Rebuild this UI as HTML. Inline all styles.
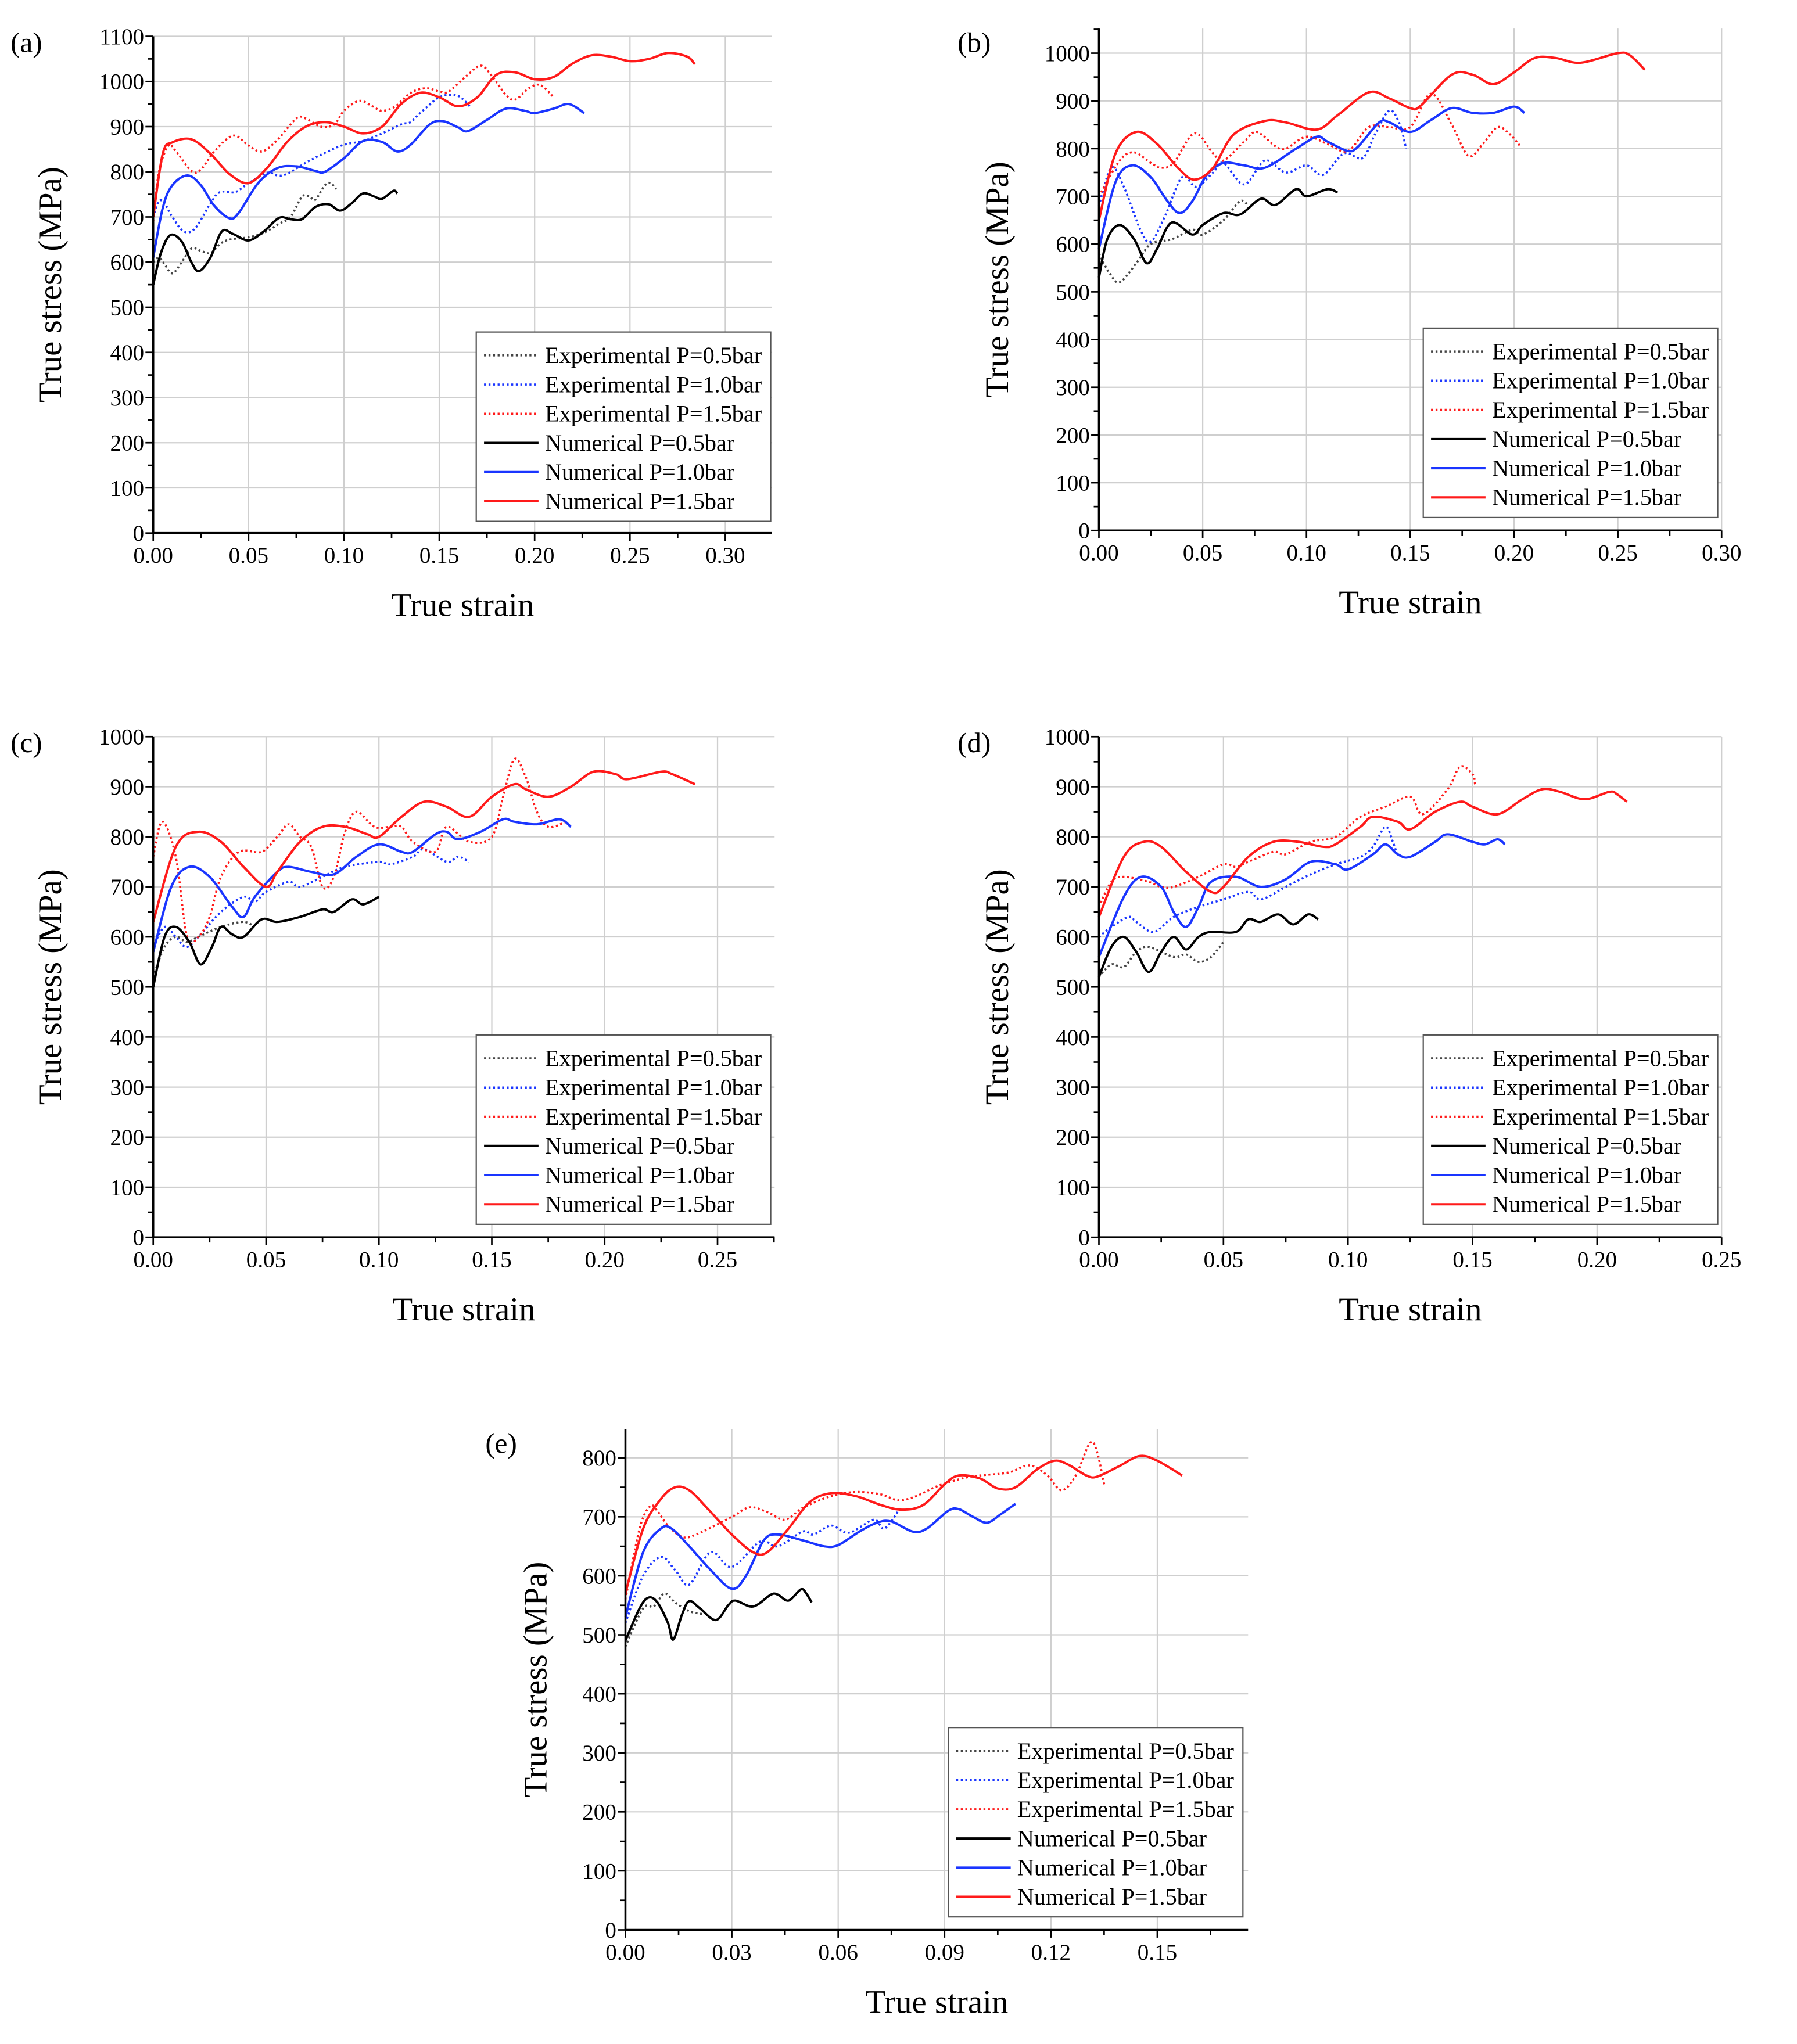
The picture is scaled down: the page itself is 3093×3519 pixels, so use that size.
<!DOCTYPE html>
<html><head><meta charset="utf-8"><style>
html,body{margin:0;padding:0;background:#fff;}
svg{display:block;}
text{font-family:"Liberation Serif",serif;fill:#000;}
</style></head>
<body>
<svg id="fig" width="3093" height="3519" viewBox="0 0 1385 1576" xmlns="http://www.w3.org/2000/svg"></svg>
<script>
// ---------------- DATA ----------------
const seriesNames = ["Experimental P=0.5bar","Experimental P=1.0bar","Experimental P=1.5bar","Numerical P=0.5bar","Numerical P=1.0bar","Numerical P=1.5bar"];
const seriesColors = ["#444","#1a35ff","#ff1a1a","#000","#1a35ff","#ff1a1a"];

const aExp05 = [[0,600],[0.003,610],[0.006,595],[0.01,575],[0.015,600],[0.02,630],[0.025,625],[0.03,620],[0.035,640],[0.04,650],[0.05,655],[0.058,665],[0.066,685],[0.072,700],[0.078,745],[0.082,745],[0.085,738],[0.09,770],[0.093,775],[0.096,762]];
const aExp10 = [[0,700],[0.003,735],[0.006,730],[0.01,700],[0.016,668],[0.022,675],[0.03,730],[0.035,755],[0.043,755],[0.05,775],[0.06,798],[0.065,792],[0.07,795],[0.08,820],[0.09,842],[0.1,860],[0.11,868],[0.12,885],[0.13,905],[0.135,910],[0.14,930],[0.15,965],[0.158,970],[0.162,962],[0.166,945]];
const aExp15 = [[0,690],[0.003,800],[0.008,858],[0.012,845],[0.02,802],[0.025,805],[0.032,845],[0.042,880],[0.05,858],[0.057,845],[0.065,870],[0.075,918],[0.08,918],[0.088,900],[0.095,905],[0.1,935],[0.108,957],[0.115,945],[0.12,935],[0.127,945],[0.135,975],[0.143,985],[0.15,978],[0.155,978],[0.165,1015],[0.172,1035],[0.178,1010],[0.185,970],[0.19,960],[0.197,985],[0.203,992],[0.21,965]];
const aNum05 = [[0,550],[0.004,620],[0.009,660],[0.015,645],[0.02,600],[0.024,580],[0.03,610],[0.036,668],[0.042,662],[0.05,648],[0.058,668],[0.066,698],[0.072,695],[0.078,695],[0.085,722],[0.092,728],[0.098,714],[0.104,730],[0.11,752],[0.116,745],[0.12,740],[0.126,758],[0.128,752]];
const aNum10 = [[0,610],[0.005,720],[0.01,770],[0.018,792],[0.025,770],[0.032,725],[0.04,697],[0.045,710],[0.055,775],[0.065,808],[0.075,812],[0.085,802],[0.09,800],[0.1,830],[0.11,868],[0.12,866],[0.128,845],[0.135,860],[0.145,905],[0.152,912],[0.16,898],[0.165,890],[0.175,915],[0.185,940],[0.195,935],[0.2,930],[0.21,940],[0.218,950],[0.226,930]];
const aNum15 = [[0,700],[0.005,840],[0.01,865],[0.02,872],[0.03,840],[0.04,795],[0.05,775],[0.06,810],[0.07,865],[0.08,900],[0.09,910],[0.1,900],[0.11,885],[0.12,900],[0.13,950],[0.14,975],[0.15,965],[0.16,945],[0.17,965],[0.18,1015],[0.19,1020],[0.2,1005],[0.21,1010],[0.22,1040],[0.23,1058],[0.24,1055],[0.25,1045],[0.26,1050],[0.27,1063],[0.28,1055],[0.284,1038]];

const bExp05 = [[0,580],[0.005,540],[0.01,520],[0.018,560],[0.025,600],[0.035,610],[0.045,630],[0.05,620],[0.06,650],[0.068,690],[0.072,680]];
const bExp10 = [[0,680],[0.006,760],[0.012,720],[0.02,630],[0.025,605],[0.032,660],[0.04,740],[0.047,720],[0.055,750],[0.06,770],[0.07,725],[0.08,775],[0.09,750],[0.1,765],[0.108,745],[0.118,790],[0.127,780],[0.133,830],[0.14,880],[0.145,850],[0.148,800]];
const bExp15 = [[0,700],[0.01,775],[0.017,792],[0.025,770],[0.03,760],[0.036,770],[0.046,832],[0.055,790],[0.06,775],[0.07,815],[0.076,835],[0.085,805],[0.09,800],[0.1,825],[0.11,810],[0.12,795],[0.13,845],[0.14,845],[0.15,845],[0.16,915],[0.17,850],[0.178,785],[0.185,810],[0.192,845],[0.198,830],[0.203,805]];
const bNum05 = [[0,530],[0.004,610],[0.01,640],[0.017,610],[0.023,560],[0.028,590],[0.035,645],[0.045,620],[0.05,640],[0.06,665],[0.068,662],[0.078,695],[0.085,682],[0.095,715],[0.1,700],[0.11,715],[0.115,708]];
const bNum10 = [[0,590],[0.008,730],[0.016,765],[0.025,740],[0.033,690],[0.039,665],[0.045,690],[0.052,745],[0.06,770],[0.07,765],[0.08,760],[0.095,800],[0.105,825],[0.11,815],[0.12,795],[0.125,805],[0.135,855],[0.14,855],[0.15,835],[0.16,860],[0.17,885],[0.18,875],[0.19,875],[0.2,888],[0.205,875]];
const bNum15 = [[0,650],[0.008,790],[0.018,835],[0.028,810],[0.038,760],[0.046,735],[0.055,760],[0.065,830],[0.08,858],[0.09,855],[0.105,840],[0.115,870],[0.13,918],[0.14,905],[0.15,885],[0.155,890],[0.17,955],[0.18,955],[0.19,935],[0.2,960],[0.21,990],[0.22,990],[0.232,980],[0.25,1000],[0.256,995],[0.263,965]];

const cExp05 = [[0,520],[0.005,580],[0.01,600],[0.015,590],[0.02,600],[0.03,620],[0.04,630],[0.045,620]];
const cExp10 = [[0,580],[0.005,620],[0.01,600],[0.015,580],[0.022,610],[0.03,650],[0.04,680],[0.045,670],[0.05,690],[0.06,710],[0.065,700],[0.075,720],[0.085,740],[0.1,750],[0.105,745],[0.115,760],[0.12,775],[0.13,750],[0.135,760],[0.14,750]];
const cExp15 = [[0,760],[0.004,830],[0.01,760],[0.015,600],[0.02,600],[0.025,640],[0.03,720],[0.038,770],[0.048,770],[0.055,800],[0.06,825],[0.065,800],[0.07,780],[0.075,700],[0.08,720],[0.085,810],[0.09,850],[0.098,820],[0.105,820],[0.11,820],[0.115,790],[0.125,770],[0.13,820],[0.14,790],[0.15,800],[0.155,880],[0.16,955],[0.165,920],[0.17,850],[0.175,820],[0.183,830]];
const cNum05 = [[0,500],[0.005,600],[0.01,620],[0.016,590],[0.021,545],[0.026,580],[0.03,620],[0.035,605],[0.04,600],[0.048,635],[0.055,630],[0.065,640],[0.075,655],[0.08,650],[0.088,675],[0.093,665],[0.1,680]];
const cNum10 = [[0,570],[0.008,700],[0.016,740],[0.025,720],[0.035,660],[0.04,640],[0.045,680],[0.055,730],[0.06,740],[0.07,730],[0.08,725],[0.09,760],[0.1,785],[0.11,770],[0.115,770],[0.125,805],[0.13,810],[0.135,795],[0.145,810],[0.155,835],[0.16,830],[0.17,825],[0.18,835],[0.185,820]];
const cNum15 = [[0,630],[0.01,780],[0.02,810],[0.03,790],[0.04,740],[0.05,700],[0.055,730],[0.065,790],[0.075,820],[0.085,820],[0.095,805],[0.1,800],[0.11,840],[0.12,870],[0.13,860],[0.14,840],[0.15,880],[0.16,905],[0.165,895],[0.175,880],[0.185,900],[0.195,930],[0.205,925],[0.21,915],[0.225,930],[0.23,925],[0.24,905]];

const dExp05 = [[0,520],[0.005,545],[0.01,540],[0.015,570],[0.02,580],[0.03,560],[0.035,565],[0.04,550],[0.045,560],[0.05,590]];
const dExp10 = [[0,600],[0.005,620],[0.012,640],[0.015,630],[0.022,610],[0.03,640],[0.04,660],[0.05,675],[0.06,690],[0.065,675],[0.075,700],[0.085,725],[0.095,745],[0.105,760],[0.11,780],[0.115,820],[0.118,790],[0.12,760]];
const dExp15 = [[0,660],[0.005,710],[0.01,720],[0.02,710],[0.025,700],[0.03,700],[0.04,720],[0.05,745],[0.055,740],[0.06,750],[0.07,770],[0.075,765],[0.085,790],[0.095,800],[0.105,840],[0.115,860],[0.125,880],[0.13,845],[0.14,895],[0.145,940],[0.15,925],[0.151,905]];
const dNum05 = [[0,520],[0.005,580],[0.01,600],[0.015,570],[0.02,530],[0.025,570],[0.03,600],[0.035,575],[0.04,600],[0.045,610],[0.055,610],[0.06,635],[0.065,630],[0.072,645],[0.078,625],[0.084,645],[0.088,635]];
const dNum10 = [[0,560],[0.01,680],[0.017,720],[0.025,700],[0.03,650],[0.035,620],[0.04,660],[0.045,710],[0.055,720],[0.065,700],[0.075,715],[0.085,750],[0.095,745],[0.1,735],[0.11,765],[0.115,785],[0.12,765],[0.125,760],[0.135,790],[0.14,805],[0.15,790],[0.155,785],[0.16,795],[0.163,785]];
const dNum15 = [[0,640],[0.01,760],[0.018,790],[0.025,780],[0.035,730],[0.045,690],[0.05,700],[0.06,760],[0.07,790],[0.08,790],[0.09,780],[0.095,785],[0.105,820],[0.11,840],[0.12,830],[0.125,815],[0.135,850],[0.145,870],[0.15,860],[0.16,845],[0.17,875],[0.178,895],[0.185,890],[0.195,875],[0.205,890],[0.208,885],[0.212,870]];

const eExp05 = [[0,480],[0.005,545],[0.008,548],[0.011,570],[0.014,555],[0.018,540],[0.022,535]];
const eExp10 = [[0,520],[0.005,600],[0.01,632],[0.014,610],[0.018,585],[0.024,640],[0.03,615],[0.038,658],[0.043,650],[0.05,675],[0.053,670],[0.058,685],[0.063,673],[0.07,695],[0.073,680],[0.077,710]];
const eExp15 = [[0,560],[0.004,680],[0.007,718],[0.009,710],[0.012,685],[0.016,666],[0.02,670],[0.03,700],[0.035,716],[0.04,708],[0.045,695],[0.05,715],[0.058,735],[0.065,742],[0.072,738],[0.077,728],[0.082,735],[0.088,752],[0.095,765],[0.1,770],[0.108,775],[0.114,787],[0.119,770],[0.123,745],[0.127,770],[0.131,825],[0.133,810],[0.135,755]];
const eNum05 = [[0,490],[0.004,545],[0.0065,563],[0.009,555],[0.012,520],[0.0135,492],[0.016,535],[0.018,557],[0.021,545],[0.0255,525],[0.029,550],[0.031,558],[0.036,548],[0.041,568],[0.043,568],[0.046,558],[0.0495,577],[0.051,570],[0.0525,555]];
const eNum10 = [[0,530],[0.005,640],[0.01,680],[0.013,680],[0.018,650],[0.024,610],[0.03,578],[0.034,600],[0.039,660],[0.043,670],[0.05,660],[0.056,650],[0.06,652],[0.066,675],[0.071,690],[0.075,692],[0.081,675],[0.085,680],[0.091,710],[0.094,713],[0.098,700],[0.102,690],[0.106,705],[0.11,722]];
const eNum15 = [[0,570],[0.005,680],[0.01,730],[0.014,750],[0.018,745],[0.023,715],[0.03,670],[0.036,640],[0.04,640],[0.046,680],[0.052,725],[0.058,740],[0.065,735],[0.072,720],[0.078,712],[0.084,720],[0.09,755],[0.094,770],[0.1,765],[0.105,748],[0.11,750],[0.116,780],[0.121,795],[0.125,788],[0.13,770],[0.133,768],[0.139,785],[0.145,803],[0.15,795],[0.157,770]];

const aXTicks = ["0.00","0.05","0.10","0.15","0.20","0.25","0.30"];
const bXTicks = ["0.00","0.05","0.10","0.15","0.20","0.25","0.30"];
const cXTicks = ["0.00","0.05","0.10","0.15","0.20","0.25"];
const dXTicks = ["0.00","0.05","0.10","0.15","0.20","0.25"];
const eXTicks = ["0.00","0.03","0.06","0.09","0.12","0.15"];
const aYTicks = [0,100,200,300,400,500,600,700,800,900,1000,1100];
const bYTicks = [0,100,200,300,400,500,600,700,800,900,1000];
const cYTicks = [0,100,200,300,400,500,600,700,800,900,1000];
const dYTicks = [0,100,200,300,400,500,600,700,800,900,1000];
const eYTicks = [0,100,200,300,400,500,600,700,800];

// ---------------- LAYOUT ----------------
const panels = [
 {id:"a",L:118,B:411,T:28,R:595,xPer:0.05,xPx:73.5,yTop:1100,xt:aXTicks,yt:aYTicks,ser:[aExp05,aExp10,aExp15,aNum05,aNum10,aNum15],leg:[367,256],lab:[8,40],yt_x:38,xt_y:475},
 {id:"b",L:847,B:409,T:22,R:1327,xPer:0.05,xPx:80,yTop:1000,yTopPx:41,xt:bXTicks,yt:bYTicks,ser:[bExp05,bExp10,bExp15,bNum05,bNum10,bNum15],leg:[1097,253],lab:[738,40],yt_x:768,xt_y:473},
 {id:"c",L:118,B:954,T:568,R:597,xPer:0.05,xPx:87,yTop:1000,xt:cXTicks,yt:cYTicks,ser:[cExp05,cExp10,cExp15,cNum05,cNum10,cNum15],leg:[367,798],lab:[8,580],yt_x:38,xt_y:1018},
 {id:"d",L:847,B:954,T:568,R:1327,xPer:0.05,xPx:96,yTop:1000,xt:dXTicks,yt:dYTicks,ser:[dExp05,dExp10,dExp15,dNum05,dNum10,dNum15],leg:[1097,798],lab:[738,580],yt_x:768,xt_y:1018},
 {id:"e",L:482,B:1488,T:1102,R:962,xPer:0.03,xPx:82,yTop:800,yTopPx:1124,xt:eXTicks,yt:eYTicks,ser:[eExp05,eExp10,eExp15,eNum05,eNum10,eNum15],leg:[731,1332],lab:[374,1120],yt_x:412,xt_y:1552}
];

const NS="http://www.w3.org/2000/svg";
const svg=document.getElementById("fig");
function mk(tag,attrs,parent){const e=document.createElementNS(NS,tag);for(const k in attrs)e.setAttribute(k,attrs[k]);(parent||svg).appendChild(e);return e;}

function smoothPath(pts){
  if(pts.length<2)return "";
  let d="M"+pts[0][0].toFixed(2)+","+pts[0][1].toFixed(2);
  for(let i=0;i<pts.length-1;i++){
    const p0=pts[Math.max(0,i-1)],p1=pts[i],p2=pts[i+1],p3=pts[Math.min(pts.length-1,i+2)];
    const c1x=p1[0]+(p2[0]-p0[0])/6,c1y=p1[1]+(p2[1]-p0[1])/6;
    const c2x=p2[0]-(p3[0]-p1[0])/6,c2y=p2[1]-(p3[1]-p1[1])/6;
    d+=" C"+c1x.toFixed(2)+","+c1y.toFixed(2)+" "+c2x.toFixed(2)+","+c2y.toFixed(2)+" "+p2[0].toFixed(2)+","+p2[1].toFixed(2);
  }
  return d;
}

panels.forEach(p=>{
  const g=mk("g",{});
  
  
  const topPx = p.yTopPx!==undefined ? p.yTopPx : p.T;
  const yScale=(p.B-topPx)/p.yTop;
  const xS=v=>p.L+v/p.xPer*p.xPx;
  const yS=v=>p.B-v*yScale;
  const grid=mk("g",{stroke:"#cfcfcf","stroke-width":1},g);
  
  
  p.xt.forEach(t=>{const v=parseFloat(t);if(v>0){const x=xS(v);mk("line",{x1:x,y1:p.T,x2:x,y2:p.B},grid);}});
  p.yt.forEach(v=>{if(v>0){const y=yS(v);mk("line",{x1:p.L,y1:y,x2:p.R,y2:y},grid);}});
  [0,1,2,3,4,5].forEach(i=>{
    const pts=p.ser[i].map(q=>[xS(q[0]),yS(q[1])]);
    const path=mk("path",{d:smoothPath(pts),fill:"none",stroke:seriesColors[i],"stroke-width":i<3?1.6:1.8,"stroke-dasharray":i<3?"1.5,2":"none","stroke-linecap":"butt"},g);
    
    
  });
  const ax=mk("g",{stroke:"#000","stroke-width":1.6},g);
  
  
  mk("line",{x1:p.L,y1:p.T,x2:p.L,y2:p.B},ax);
  mk("line",{x1:p.L,y1:p.B,x2:p.R,y2:p.B},ax);
  const xmaxData=(p.R-p.L)/p.xPx*p.xPer;
  for(let k=0;k*p.xPer/2<=xmaxData+1e-9;k++){
    const x=xS(k*p.xPer/2);
    mk("line",{x1:x,y1:p.B,x2:x,y2:p.B+(k%2===0?6:4),"stroke-width":1.2},ax);
  }
  p.xt.forEach(t=>{
    const tx=mk("text",{x:xS(parseFloat(t)),y:p.B+23,"font-size":17.5,"text-anchor":"middle"},g);
    tx.textContent=t;
    
    
  });
  const ymaxData=(p.B-p.T)/yScale;
  for(let k=0;k*50<=ymaxData+1e-9;k++){
    const y=yS(k*50);
    mk("line",{x1:p.L,y1:y,x2:p.L-(k%2===0?6:4),y2:y,"stroke-width":1.2},ax);
  }
  p.yt.forEach(v=>{
    const ty=mk("text",{x:p.L-7,y:yS(v)+6,"font-size":17.5,"text-anchor":"end"},g);
    ty.textContent=String(v);
    
    
  });
  const yc=(p.T+p.B)/2;
  const yt=mk("text",{x:0,y:0,"font-size":25.5,"text-anchor":"middle",transform:"translate("+(p.yt_x+9)+","+yc+") rotate(-90)"},g);
  yt.textContent="True stress (MPa)";
  
  
  const xt=mk("text",{x:(p.L+p.R)/2,y:p.xt_y,"font-size":25.5,"text-anchor":"middle"},g);
  xt.textContent="True strain";
  
  
  const pl=mk("text",{x:p.lab[0],y:p.lab[1],"font-size":22},g);
  pl.textContent="("+p.id+")";
  
  
  const lg=mk("g",{},g);
  
  
  const lx=p.leg[0],ly=p.leg[1];
  mk("rect",{x:lx,y:ly,width:227,height:146,fill:"#fff",stroke:"#555","stroke-width":1},lg);
  seriesNames.forEach((n,i)=>{
    const y=ly+18+i*22.5;
    const ent=mk("g",{},lg);
    
    
    mk("line",{x1:lx+6,y1:y,x2:lx+48,y2:y,stroke:seriesColors[i],"stroke-width":i<3?1.6:1.8,"stroke-dasharray":i<3?"1.5,2":"none"},ent);
    const t=mk("text",{x:lx+53,y:y+6,"font-size":18},ent);
    t.textContent=n;
  });
});
</script>
</body></html>
